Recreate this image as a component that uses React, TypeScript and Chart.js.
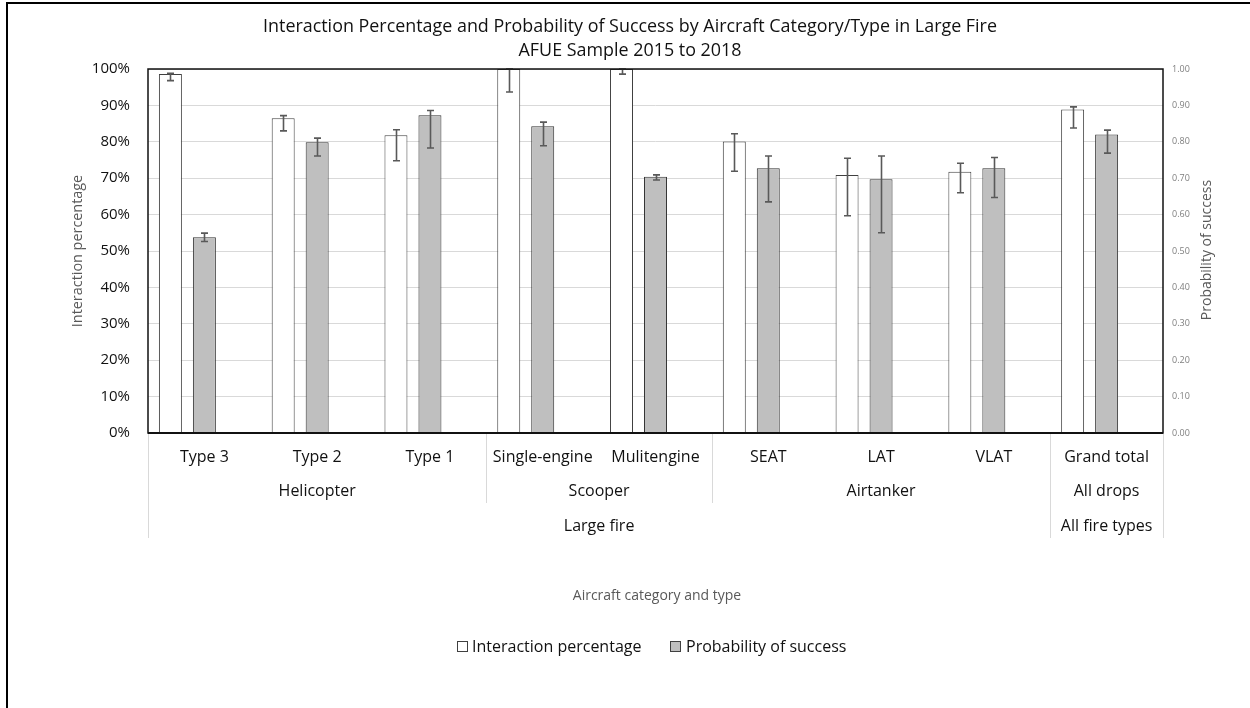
import React, { useEffect, useRef } from "react";
import { Chart, registerables } from "chart.js";

Chart.register(...registerables);

// ---------- DATA ----------
const categories = ["Type 3", "Type 2", "Type 1", "Single-engine", "Mulitengine", "SEAT", "LAT", "VLAT", "Grand total"];

const groupNames = ["Helicopter", "Scooper", "Airtanker", "All drops"];
const groupStart = [0, 3, 5, 8];
const groupEnd = [2, 4, 7, 8];

const topGroupNames = ["Large fire", "All fire types"];
const topGroupStart = [0, 8];
const topGroupEnd = [7, 8];

const interactionPct = [98.6, 86.5, 81.8, 100, 100, 80.1, 70.9, 71.8, 88.9];
const interactionLow = [96.8, 83.0, 74.8, 93.7, 98.6, 71.9, 59.7, 66.0, 83.8];
const interactionHigh = [98.8, 87.2, 83.3, 100, 100, 82.2, 75.5, 74.1, 89.6];

const probSuccess = [0.538, 0.799, 0.873, 0.843, 0.704, 0.727, 0.697, 0.727, 0.82];
const probLow = [0.526, 0.761, 0.783, 0.789, 0.695, 0.635, 0.55, 0.647, 0.769];
const probHigh = [0.549, 0.81, 0.886, 0.854, 0.709, 0.761, 0.761, 0.757, 0.832];

const spacerSeries = categories.map(() => null);

const leftTicks = [0, 10, 20, 30, 40, 50, 60, 70, 80, 90, 100];
const rightTicks = [0, 0.1, 0.2, 0.3, 0.4, 0.5, 0.6, 0.7, 0.8, 0.9, 1.0];

const titleLines = [
  "Interaction Percentage and Probability of Success by Aircraft Category/Type in Large Fire",
  "AFUE Sample 2015 to 2018",
];
const leftAxisTitle = "Interaction percentage";
const rightAxisTitle = "Probability of success";
const xAxisTitle = "Aircraft category and type";
const seriesNames = ["Interaction percentage", "Probability of success"];

const FONT = "'Open Sans', 'Noto Sans', sans-serif";

const errorBars: Record<number, { low: number[]; high: number[] }> = {
  0: { low: interactionLow, high: interactionHigh },
  1: { low: probLow, high: probHigh },
};

const decorPlugin = {
  id: "decor",
  beforeDraw(chart: any) {
    const ctx = chart.ctx;
    ctx.save();
    ctx.fillStyle = "#ffffff";
    ctx.fillRect(0, 0, chart.width, chart.height);
    // outer frame
    ctx.strokeStyle = "#000";
    ctx.lineWidth = 2;
    ctx.beginPath();
    ctx.moveTo(7, chart.height);
    ctx.lineTo(7, 3);
    ctx.lineTo(chart.width, 3);
    ctx.stroke();
    ctx.restore();
  },
  afterDatasetsDraw(chart: any) {
    const ctx = chart.ctx;
    const area = chart.chartArea;
    ctx.save();
    ctx.beginPath();
    ctx.rect(area.left, area.top - 1, area.right - area.left, area.bottom - area.top + 1);
    ctx.clip();
    ctx.strokeStyle = "#595959";
    ctx.lineWidth = 1.6;
    Object.keys(errorBars).forEach((k) => {
      const di = Number(k);
      const meta = chart.getDatasetMeta(di);
      const scale = chart.scales[meta.yAxisID];
      const { low, high } = errorBars[di];
      meta.data.forEach((bar: any, i: number) => {
        const x = Math.round(bar.x) + 0.5;
        const yl = scale.getPixelForValue(low[i]);
        const yh = scale.getPixelForValue(high[i]);
        ctx.beginPath();
        ctx.moveTo(x, yl);
        ctx.lineTo(x, yh);
        ctx.moveTo(x - 3.5, yl);
        ctx.lineTo(x + 3.5, yl);
        ctx.moveTo(x - 3.5, yh);
        ctx.lineTo(x + 3.5, yh);
        ctx.stroke();
      });
    });
    ctx.restore();

    // plot frame
    ctx.save();
    ctx.strokeStyle = "#111";
    ctx.lineWidth = 1.5;
    ctx.strokeRect(area.left, area.top, area.right - area.left, area.bottom - area.top);
    ctx.lineWidth = 2.2;
    ctx.beginPath();
    ctx.moveTo(area.left, area.bottom);
    ctx.lineTo(area.right, area.bottom);
    ctx.stroke();
    ctx.restore();
  },
  afterDraw(chart: any) {
    const ctx = chart.ctx;
    const area = chart.chartArea;
    const xs = chart.scales.x;
    const boundary = (i: number) => {
      if (i <= 0) return area.left;
      if (i >= categories.length) return area.right;
      return (xs.getPixelForValue(i - 1) + xs.getPixelForValue(i)) / 2;
    };
    ctx.save();
    // separators
    ctx.strokeStyle = "#d9d9d9";
    ctx.lineWidth = 1;
    const seps: [number, number][] = [
      [0, 538],
      [3, 503],
      [5, 503],
      [8, 538],
      [9, 538],
    ];
    seps.forEach(([i, y2]) => {
      const x = Math.round(boundary(i)) + 0.5;
      ctx.beginPath();
      ctx.moveTo(x, area.bottom + 1);
      ctx.lineTo(x, y2);
      ctx.stroke();
    });

    ctx.textAlign = "center";
    ctx.textBaseline = "middle";
    ctx.fillStyle = "#111";
    ctx.font = `16px ${FONT}`;
    categories.forEach((c, i) => {
      ctx.fillText(c, xs.getPixelForValue(i), 457);
    });
    groupNames.forEach((g, k) => {
      const cx = (boundary(groupStart[k]) + boundary(groupEnd[k] + 1)) / 2;
      ctx.fillText(g, cx, 491.5);
    });
    topGroupNames.forEach((g, k) => {
      const cx = (boundary(topGroupStart[k]) + boundary(topGroupEnd[k] + 1)) / 2;
      ctx.fillText(g, cx, 526.5);
    });

    // title
    ctx.fillStyle = "#111";
    ctx.font = `17.9px ${FONT}`;
    ctx.fillText(titleLines[0], 630, 26.5);
    ctx.fillText(titleLines[1], 630, 50.5);

    // x axis title
    ctx.fillStyle = "#595959";
    ctx.font = `14px ${FONT}`;
    ctx.fillText(xAxisTitle, 657, 596);

    // y axis titles
    ctx.save();
    ctx.translate(78, 251);
    ctx.rotate(-Math.PI / 2);
    ctx.font = `14.4px ${FONT}`;
    ctx.fillText(leftAxisTitle, 0, 0);
    ctx.restore();
    ctx.save();
    ctx.translate(1207, 250);
    ctx.rotate(-Math.PI / 2);
    ctx.font = `14px ${FONT}`;
    ctx.fillText(rightAxisTitle, 0, 0);
    ctx.restore();

    // legend
    const ly = 647;
    ctx.font = `16px ${FONT}`;
    ctx.textAlign = "left";
    ctx.fillStyle = "#ffffff";
    ctx.strokeStyle = "#404040";
    ctx.lineWidth = 1;
    ctx.fillRect(457.5, ly - 5.5, 10, 10);
    ctx.strokeRect(457.5, ly - 5.5, 10, 10);
    ctx.fillStyle = "#111";
    ctx.fillText(seriesNames[0], 472, ly);
    ctx.fillStyle = "#bfbfbf";
    ctx.fillRect(670.5, ly - 5.5, 10, 10);
    ctx.strokeRect(670.5, ly - 5.5, 10, 10);
    ctx.fillStyle = "#111";
    ctx.fillText(seriesNames[1], 686, ly);
    ctx.restore();
  },
};

export default function App() {
  const ref = useRef<HTMLCanvasElement | null>(null);
  useEffect(() => {
    if (!ref.current) return;
    const chart = new Chart(ref.current, {
      type: "bar",
      data: {
        labels: categories,
        datasets: [
          {
            label: seriesNames[0],
            data: interactionPct,
            yAxisID: "y",
            backgroundColor: "#ffffff",
            borderColor: "#404040",
            borderWidth: 1,
            categoryPercentage: 0.904,
            barPercentage: 0.676,
          },
          {
            label: seriesNames[1],
            data: probSuccess,
            yAxisID: "y1",
            backgroundColor: "#bfbfbf",
            borderColor: "#333333",
            borderWidth: 1,
            categoryPercentage: 0.904,
            barPercentage: 0.676,
          },
          {
            label: "spacer",
            data: spacerSeries as any,
            yAxisID: "y",
            backgroundColor: "rgba(0,0,0,0)",
            borderWidth: 0,
            categoryPercentage: 0.904,
            barPercentage: 0.676,
          },
        ],
      },
      options: {
        animation: false,
        responsive: false,
        layout: { padding: { top: 69, left: 0, right: 0, bottom: 0 } },
        plugins: {
          legend: { display: false },
          title: { display: false },
          tooltip: { enabled: false },
        },
        scales: {
          x: {
            type: "category",
            ticks: { display: false },
            grid: { display: false },
            border: { display: false },
            afterFit: (s: any) => {
              s.height = 708 - 433;
            },
          },
          y: {
            position: "left",
            min: 0,
            max: 100,
            afterBuildTicks: (s: any) => {
              s.ticks = leftTicks.map((v) => ({ value: v }));
            },
            ticks: {
              callback: (v: any) => `${v}%`,
              padding: 18,
              color: "#111",
              font: { family: FONT, size: 15 },
            },
            grid: { color: "#d9d9d9", drawTicks: false, lineWidth: 1 },
            border: { display: false },
            afterFit: (s: any) => {
              s.width = 148;
            },
          },
          y1: {
            position: "right",
            min: 0,
            max: 1,
            afterBuildTicks: (s: any) => {
              s.ticks = rightTicks.map((v) => ({ value: v }));
            },
            ticks: {
              callback: (v: any) => Number(v).toFixed(2),
              padding: 9,
              color: "#7f7f7f",
              font: { family: FONT, size: 9 },
            },
            grid: { display: false, drawTicks: false },
            border: { display: false },
            afterFit: (s: any) => {
              s.width = 1250 - 1163;
            },
          },
        },
      },
      plugins: [decorPlugin],
    });
    return () => chart.destroy();
  }, []);
  return (
    <div style={{ position: "fixed", left: 0, top: 0, width: 1250, height: 708, background: "#fff" }}>
      <canvas ref={ref} width={1250} height={708} style={{ display: "block", width: 1250, height: 708 }} />
    </div>
  );
}
